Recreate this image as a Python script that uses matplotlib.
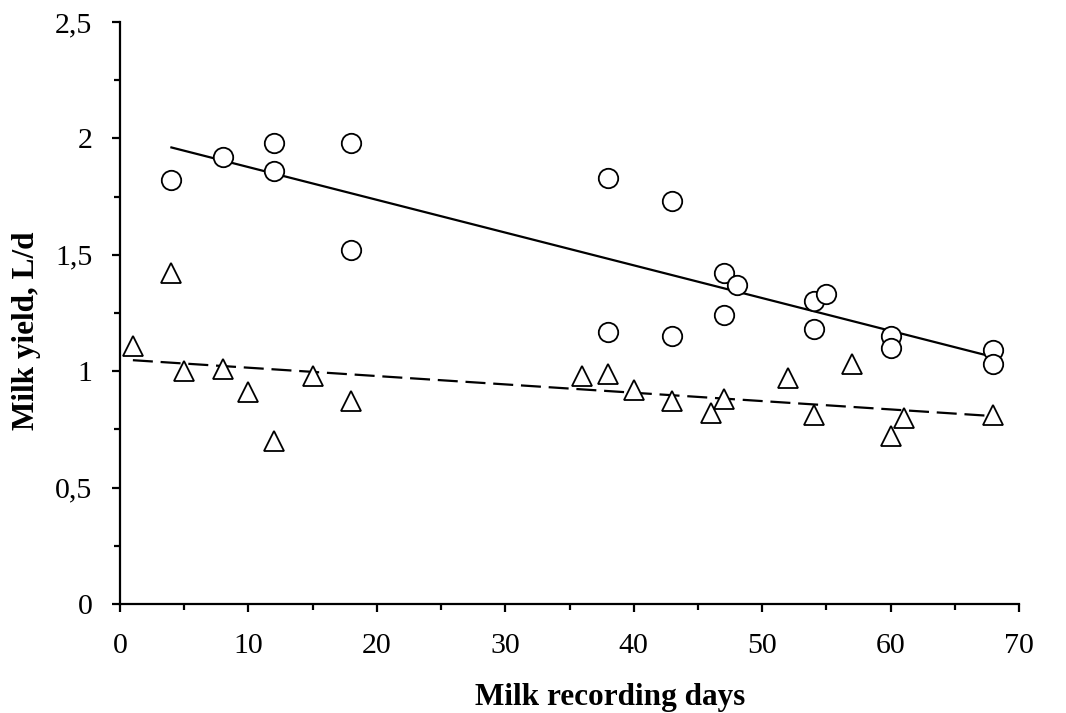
import numpy as np
import matplotlib.pyplot as plt
from matplotlib.ticker import MultipleLocator, FuncFormatter

# group 1 (circles)
days_a = [4, 8, 12, 12, 18, 18, 38, 38, 43, 43, 47, 47, 48, 54, 54, 55, 60, 60, 68, 68]
yield_a = [1.82, 1.92, 1.98, 1.86, 1.98, 1.52, 1.83, 1.17, 1.73, 1.15,
           1.42, 1.24, 1.37, 1.30, 1.18, 1.33, 1.15, 1.10, 1.09, 1.03]

# group 2 (triangles)
days_b = [1, 4, 5, 8, 10, 12, 15, 18, 36, 38, 40, 43, 46, 47, 52, 54, 57, 60, 61, 68]
yield_b = [1.11, 1.42, 1.00, 1.01, 0.91, 0.70, 0.98, 0.87, 0.98, 0.99,
           0.92, 0.87, 0.82, 0.88, 0.97, 0.81, 1.03, 0.72, 0.80, 0.81]

plt.rcParams['font.family'] = ['Liberation Serif', 'DejaVu Serif']

fig = plt.figure(figsize=(10.66, 7.13), dpi=100)
ax = fig.add_axes([0.1126, 0.1529, 0.8434, 0.8161])

# trend lines (linear fits)
for xs, ys, ls in [(days_a, yield_a, '-'), (days_b, yield_b, (0, (9, 3.5)))]:
    k, b = np.polyfit(xs, ys, 1)
    xx = np.array([min(xs), max(xs)])
    ax.plot(xx, k * xx + b, color='black', lw=1.6, linestyle=ls, zorder=2)

ax.plot(days_a, yield_a, 'o', ms=14, mfc='white', mec='black', mew=1.3, zorder=3)
ax.plot(days_b, yield_b, '^', ms=14, mfc='white', mec='black', mew=1.3, zorder=3)

ax.set_xlim(0, 70)
ax.set_ylim(0, 2.5)
ax.xaxis.set_major_locator(MultipleLocator(10))
ax.xaxis.set_minor_locator(MultipleLocator(5))
ax.yaxis.set_major_locator(MultipleLocator(0.5))
ax.yaxis.set_minor_locator(MultipleLocator(0.25))
ax.yaxis.set_major_formatter(FuncFormatter(lambda v, p: ('%g' % v).replace('.', ',')))

for s in ['top', 'right']:
    ax.spines[s].set_visible(False)
for s in ['left', 'bottom']:
    ax.spines[s].set_linewidth(1.6)

ax.tick_params(which='major', direction='out', length=6, width=1.6, labelsize=21.5)
ax.tick_params(which='minor', direction='out', length=4, width=1.6)
ax.tick_params(axis='x', which='major', pad=15)
ax.tick_params(axis='y', which='major', pad=14)

ax.set_xlabel('Milk recording days', fontsize=22.5, fontweight='bold')
ax.set_ylabel('Milk yield, L/d', fontsize=22.5, fontweight='bold')
ax.xaxis.set_label_coords(0.545, -0.135)
ax.yaxis.set_label_coords(-0.088, 0.469)

fig.savefig('out.png', dpi=100)
